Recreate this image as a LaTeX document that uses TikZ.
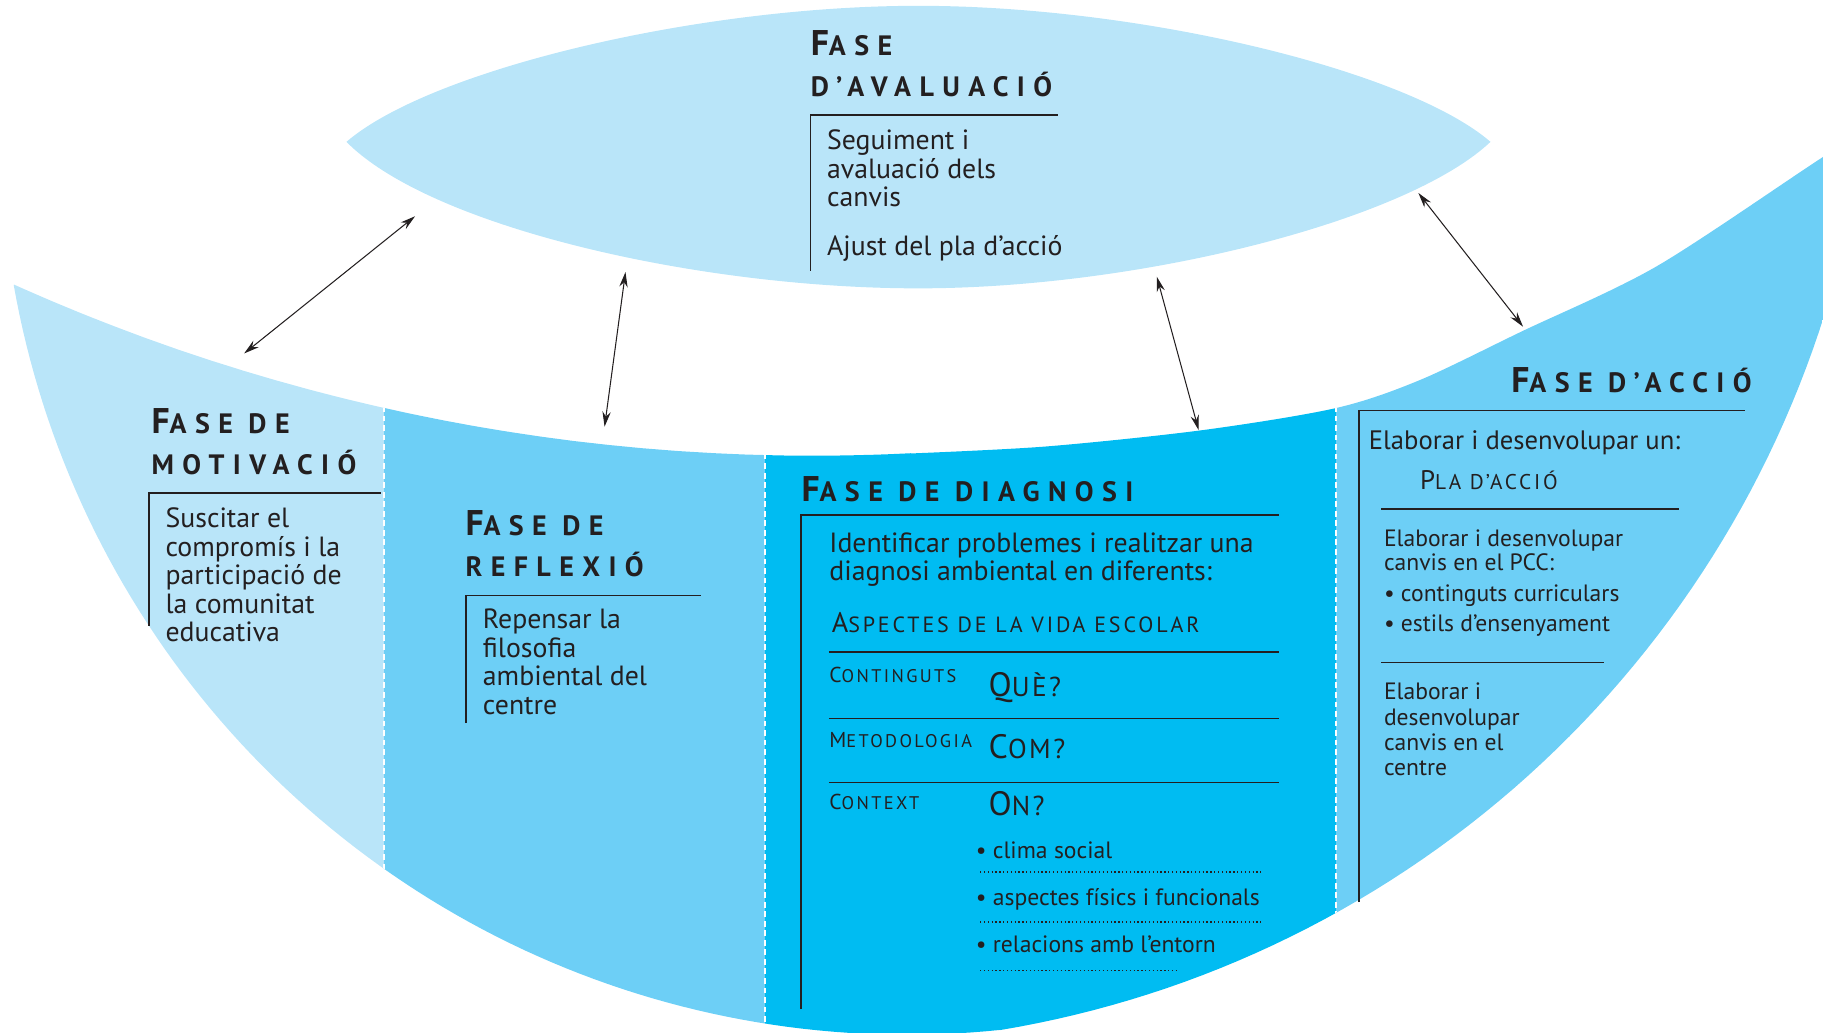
\documentclass[tikz,border=0pt]{standalone}
\usepackage{fontspec}
\setmainfont{PT Sans}
\newfontfamily\tfont[LetterSpace=30]{PT Sans}
\newfontfamily\sfont[LetterSpace=13]{PT Sans}
\newfontfamily\wfont[LetterSpace=9]{PT Sans}
\usetikzlibrary{arrows.meta}
\definecolor{cA}{RGB}{185,229,249}
\definecolor{cB}{RGB}{109,207,246}
\definecolor{cC}{RGB}{0,188,242}
\definecolor{ink}{RGB}{35,31,32}
\newcommand\fz[1]{\fontsize{#1}{#1}\selectfont}
\newcommand\ttl[2]{{\tfont\bfseries\fz{15.4}#1}{\tfont\bfseries\fz{12.1}#2}}
\newcommand\tts[1]{{\tfont\bfseries\fz{12.1}#1}}
\newcommand\smc[4]{{\sfont\fz{#1}#3}{\sfont\fz{#2}#4}}
\newcommand\smw[4]{{\wfont\fz{#1}#3}{\wfont\fz{#2}#4}}
\newcommand\blk[2]{\vtop{\baselineskip=#1\halign{##\hfil\cr#2\crcr}}}
\begin{document}
\begin{tikzpicture}[x=0.5bp,y=-0.5bp,
  txt/.style={anchor=base west,inner sep=0pt,text=ink,font=\fz{12}},
  bul/.style={anchor=base west,inner sep=0pt,text=ink,font=\fz{10.2}},
  small/.style={anchor=base west,inner sep=0pt,text=ink,font=\fz{10.2}},
  ttlnode/.style={anchor=base west,inner sep=0pt,text=ink},
  rule/.style={line width=0.65bp,draw=ink},
  dots/.style={line width=0.55bp,draw=ink,dash pattern=on 0.55bp off 1.1bp},
  sep/.style={draw=white,line width=0.8bp,dash pattern=on 2.5bp off 1.6bp},
  arr/.style={{Stealth[length=6.5pt,width=3.6pt]}-{Stealth[length=6.5pt,width=3.6pt]},line width=0.45bp,draw=ink}]
\useasboundingbox (0,0) rectangle (1568,888);
% evaluation lens
\fill[cA] (298,122) .. controls (370,60) and (600,5) .. (790,5)
  .. controls (980,5) and (1210,60) .. (1282,122)
  .. controls (1210,190) and (980,248) .. (790,248)
  .. controls (600,248) and (370,195) .. (298,122) -- cycle;
% crescent with bands
\begin{scope}
\clip (0,0) rectangle (1568,888);
\clip plot[domain=0:1,samples=80] ({699.4+1679*cos(114.16-27.05*\x)},{-1287+1679*sin(114.16-27.05*\x)})
  -- plot[smooth,tension=0.5] coordinates {(784,390) (900,384) (1034,370) (1149,351) (1221,327) (1309,285) (1425,229) (1568,135) (1640,90)}
  -- (1640,150)
  -- plot[domain=8:80.6,samples=70] ({713.4+897.5*cos(\x)},{0.6+897.5*sin(\x)})
  -- plot[domain=84.1:170.03,samples=90] ({780+780*cos(\x)},{110+780*sin(\x)}) -- cycle;
\fill[cA] (0,0) rectangle (330,900);
\fill[cB] (330,0) rectangle (658,900);
\fill[cC] (658,0) rectangle (1149,900);
\fill[cB] (1149,0) rectangle (1640,900);
\draw[sep] (330,300) -- (330,900);
\draw[sep] (658,300) -- (658,900);
\draw[sep] (1149,300) -- (1149,900);
\end{scope}
% arrows
\coordinate (a1s) at (210,304); \coordinate (a1e) at (357,186);
\coordinate (a2s) at (520,367); \coordinate (a2e) at (538,234);
\coordinate (a3s) at (1031,370); \coordinate (a3e) at (995,238);
\coordinate (a4s) at (1310,281); \coordinate (a4e) at (1220,166);
\draw[arr] (a1s) -- (a1e);
\draw[arr] (a2s) -- (a2e);
\draw[arr] (a3s) -- (a3e);
\draw[arr] (a4s) -- (a4e);
% Fase d'avaluacio
\node[ttlnode] (av1) at (697,48) {\ttl{F}{ASE}};
\node[ttlnode] (av2) at (697,83) {\tts{D’AVALUACIÓ}};
\draw[rule] (697,233) |- (910,99);
\node[txt] (avt) at (711,129) {\blk{12.25bp}{Seguiment i\cr avaluació dels\cr canvis}};
\node[txt] (avt2) at (711,220) {Ajust del pla d’acció};
% Fase de motivacio
\node[ttlnode] (mo1) at (130,373) {\ttl{F}{ASE DE}};
\node[ttlnode] (mo2) at (130,408) {\tts{MOTIVACIÓ}};
\draw[rule] (128,538) |- (328,424);
\node[txt] (mot) at (142,454) {\blk{12.25bp}{Suscitar el\cr compromís i la\cr participació de\cr la comunitat\cr educativa}};
% Fase de reflexio
\node[ttlnode] (re1) at (400,461) {\ttl{F}{ASE DE}};
\node[ttlnode] (re2) at (400,496) {\tts{REFLEXIÓ}};
\draw[rule] (401,622) |- (603,512);
\node[txt] (ret) at (415,541) {\blk{12.25bp}{Repensar la\cr filosofia\cr ambiental del\cr centre}};
% Fase de diagnosi
\node[ttlnode] (di1) at (689,431) {\ttl{F}{ASE DE DIAGNOSI}};
\draw[rule] (689,868) |- (1100,443);
\node[txt] (dit) at (713,475) {\blk{12.25bp}{Identificar problemes i realitzar una\cr diagnosi ambiental en diferents:}};
\node[ttlnode] (dia) at (715,544) {\smc{12.2}{9.5}{A}{SPECTES DE LA VIDA ESCOLAR}};
\draw[rule] (713,561) -- (1100,561);
\node[ttlnode] (dc1) at (713,587) {\smc{9.3}{7.9}{C}{ONTINGUTS}};
\node[ttlnode] (dq1) at (850,599) {\smw{14.6}{11.8}{Q}{UÈ?}};
\draw[rule] (713,618) -- (1100,618);
\node[ttlnode] (dc2) at (713,643) {\smc{9.3}{7.9}{M}{ETODOLOGIA}};
\node[ttlnode] (dq2) at (850,652) {\smw{14.6}{11.8}{C}{OM?}};
\draw[rule] (713,673) -- (1100,673);
\node[ttlnode] (dc3) at (713,696) {\smc{9.3}{7.9}{C}{ONTEXT}};
\node[ttlnode] (dq3) at (850,701) {\smw{14.6}{11.8}{O}{N?}};
\node[bul] (b1) at (839,738) {• clima social};
\draw[dots] (843,750) -- (1084,750);
\node[bul] (b2) at (839,779) {• aspectes físics i funcionals};
\draw[dots] (843,793) -- (1084,793);
\node[bul] (b3) at (839,819) {• relacions amb l’entorn};
\draw[dots] (843,835) -- (1013,835);
% Fase d'accio
\node[ttlnode,anchor=base east] (ac1) at (1507,338) {\ttl{F}{ASE D’ACCIÓ}};
\draw[rule] (1169,776) |- (1501,353);
\node[txt,font=\fz{11.5}] (act) at (1177,387) {Elaborar i desenvolupar un:};
\node[ttlnode] (acp) at (1221,421) {\smc{11.6}{9.2}{P}{LA D’ACCIÓ}};
\draw[rule] (1188,438) -- (1444,438);
\node[small] (ac2) at (1190,470) {\blk{10.25bp}{Elaborar i desenvolupar\cr canvis en el PCC:}};
\node[small] (ac2b) at (1190,517) {\blk{13bp}{• continguts curriculars\cr • estils d’ensenyament}};
\draw[rule] (1188,570) -- (1380,570);
\node[small] (ac3) at (1190,602) {\blk{10.9bp}{Elaborar i\cr desenvolupar\cr canvis en el\cr centre}};
\end{tikzpicture}
\end{document}
